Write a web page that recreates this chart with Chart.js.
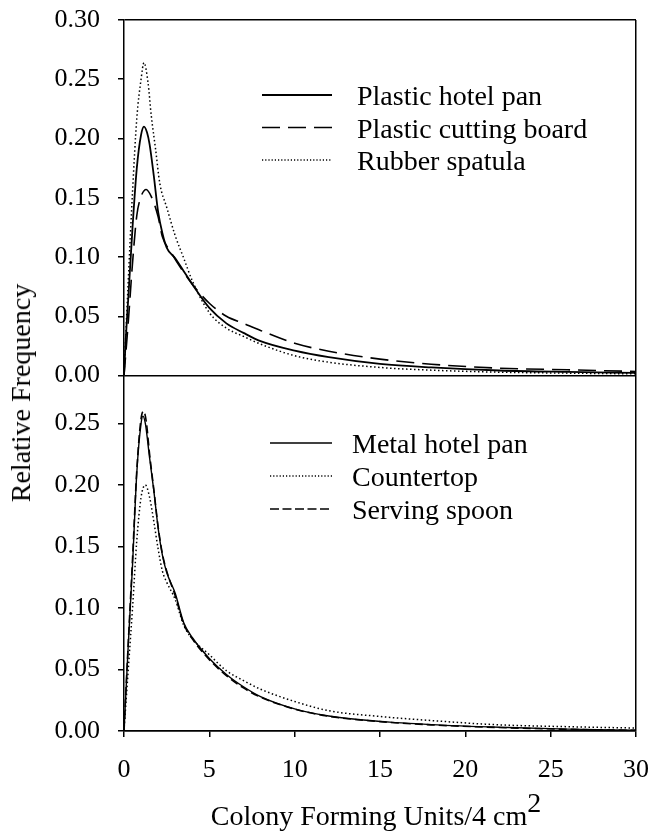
<!DOCTYPE html>
<html>
<head>
<meta charset="utf-8">
<title>Relative Frequency of CFU</title>
<script src="https://cdn.jsdelivr.net/npm/chart.js@4.4.1/dist/chart.umd.min.js"></script>
<style>
    body { margin: 0; background: #fff; }
    #wrap { position: relative; width: 651px; height: 833px; font-family: "Liberation Serif", "Times New Roman", serif; color: #000; }
    #chart { position: absolute; left: 0; top: 0; }
    #yTitle {
        position: absolute; left: 21px; top: 393px;
        transform: translate(-50%, -50%) rotate(-90deg);
        font-size: 28px; line-height: 1; white-space: nowrap;
    }
    #xTitle {
        position: absolute; left: 376px; top: 802px;
        transform: translateX(-50%);
        font-size: 28px; line-height: 1; white-space: nowrap;
    }
    #xTitle sup { font-size: 28px; line-height: 0; vertical-align: 13px; }
</style>
</head>
<body>
<div id="wrap">
    <canvas id="chart" width="651" height="833"></canvas>
    <div id="yTitle">Relative Frequency</div>
    <div id="xTitle">Colony Forming Units/4 cm<sup>2</sup></div>
</div>
<script>
// Tick labels
const X_TICKS = [0, 5, 10, 15, 20, 25, 30];
const TOP_TICKS = [0, 0.05, 0.10, 0.15, 0.20, 0.25, 0.30];
const BOTTOM_TICKS = [0, 0.05, 0.10, 0.15, 0.20, 0.25];

// Upper panel series (x in CFU/4 cm2, y relative frequency)
const hotelPanX = [0, 0.1, 0.25, 0.5, 0.75, 1.0, 1.17, 1.35, 1.5, 1.75, 2.0, 2.25, 2.5, 3.0, 3.5, 4, 5, 6, 7, 8, 10, 12, 15, 18, 22, 26, 30];
const hotelPanY = [0, 0.03, 0.065, 0.125, 0.175, 0.203, 0.210, 0.205, 0.195, 0.168, 0.138, 0.12, 0.108, 0.099, 0.088, 0.077, 0.057, 0.044, 0.036, 0.029, 0.021, 0.0155, 0.0098, 0.0068, 0.0042, 0.003, 0.0022];

const cuttingBoardX = [0, 0.25, 0.5, 0.75, 1.0, 1.3, 1.6, 2.0, 2.25, 2.75, 3.5, 4, 5, 6, 7, 8, 10, 12, 15, 18, 22, 26, 30];
const cuttingBoardY = [0, 0.045, 0.095, 0.135, 0.151, 0.157, 0.151, 0.134, 0.117, 0.104, 0.087, 0.077, 0.061, 0.050, 0.044, 0.038, 0.0272, 0.0205, 0.0138, 0.0095, 0.0062, 0.0048, 0.0034];

const spatulaX = [0, 0.25, 0.5, 0.75, 1.0, 1.17, 1.4, 1.6, 1.85, 2.1, 2.5, 3.0, 3.5, 4, 5, 6, 7, 8, 10, 12, 15, 18, 22, 26, 30];
const spatulaY = [0, 0.08, 0.155, 0.217, 0.25, 0.264, 0.248, 0.219, 0.191, 0.162, 0.142, 0.118, 0.099, 0.080, 0.053, 0.040, 0.033, 0.0265, 0.0167, 0.0112, 0.0068, 0.0045, 0.0028, 0.002, 0.0014];

// Lower panel series
const metalPanX = [0, 0.25, 0.5, 0.75, 1.0, 1.11, 1.25, 1.5, 1.75, 2.0, 2.25, 2.5, 3.0, 3.5, 4, 5, 6, 7, 8, 10, 12, 15, 18, 22, 26, 30];
const metalPanY = [0, 0.07, 0.135, 0.21, 0.25, 0.256, 0.25, 0.222, 0.195, 0.165, 0.143, 0.129, 0.112, 0.088, 0.076, 0.059, 0.046, 0.036, 0.028, 0.018, 0.0122, 0.0078, 0.0052, 0.003, 0.0015, 0.0006];

const countertopX = [0, 0.25, 0.5, 0.75, 1.0, 1.25, 1.5, 1.75, 2.0, 2.25, 2.5, 3.0, 3.5, 4, 5, 6, 7, 8, 10, 12, 15, 18, 22, 26, 30];
const countertopY = [0, 0.05, 0.1, 0.155, 0.19, 0.200, 0.19, 0.17, 0.148, 0.13, 0.121, 0.107, 0.086, 0.075, 0.062, 0.049, 0.041, 0.034, 0.024, 0.0165, 0.0118, 0.0085, 0.005, 0.0035, 0.0024];

const spoonX = [0, 0.25, 0.5, 0.75, 1.0, 1.15, 1.3, 1.5, 1.75, 2.0, 2.25, 2.5, 3.0, 3.5, 4, 5, 6, 7, 8, 10, 12, 15, 18, 22, 26, 30];
const spoonY = [0, 0.072, 0.14, 0.212, 0.254, 0.260, 0.252, 0.225, 0.196, 0.166, 0.144, 0.13, 0.11, 0.087, 0.075, 0.058, 0.045, 0.035, 0.0275, 0.0178, 0.012, 0.0076, 0.005, 0.0028, 0.0014, 0.0005];

const FONT = '"Liberation Serif", "Times New Roman", serif';
const DOTS = [1.5, 2.5];

function points(xs, ys) {
    return xs.map((x, i) => ({ x: x, y: ys[i] }));
}

function line(label, xs, ys, axis, width, dash) {
    return {
        label: label,
        data: points(xs, ys),
        yAxisID: axis,
        borderColor: '#000',
        borderWidth: width,
        borderDash: dash,
        pointRadius: 0,
        fill: false,
        cubicInterpolationMode: 'monotone'
    };
}

// Legend drawn inside each panel
const panelLegend = {
    id: 'panelLegend',
    afterDatasetsDraw(chart, args, opts) {
        const ctx = chart.ctx;
        opts.panels.forEach(p => {
            const items = chart.data.datasets.filter(d => d.yAxisID === p.axis);
            items.forEach((d, i) => {
                const y = p.y0 + i * p.dy;
                ctx.save();
                ctx.strokeStyle = '#000';
                ctx.lineWidth = d.borderWidth;
                ctx.setLineDash(p.dash[i]);
                ctx.beginPath();
                ctx.moveTo(p.x0, y);
                ctx.lineTo(p.x1, y);
                ctx.stroke();
                ctx.setLineDash([]);
                ctx.fillStyle = '#000';
                ctx.font = '28px ' + FONT;
                ctx.textBaseline = 'alphabetic';
                ctx.fillText(d.label, p.tx, y + 10);
                ctx.restore();
            });
        });
    }
};

function yAxis(ticks, max, weight) {
    return {
        type: 'linear',
        position: 'left',
        stack: 'panels',
        stackWeight: weight,
        min: 0,
        max: max,
        afterBuildTicks: s => { s.ticks = ticks.map(v => ({ value: v })); },
        afterFit: s => {
            s.width = 124;
            // label padding would otherwise push the plot area down
            s.paddingTop = 0;
            s.paddingBottom = 0;
        },
        border: { color: '#000', width: 1.5 },
        grid: {
            color: c => (c.tick && (c.tick.value === 0 || c.tick.value >= 0.299)) ? '#000' : 'rgba(0,0,0,0)',
            lineWidth: 1.5,
            tickColor: '#000',
            tickLength: 6
        },
        ticks: {
            color: '#000',
            font: { family: FONT, size: 26 },
            padding: 18,
            autoSkip: false,
            callback: v => v.toFixed(2)
        }
    };
}

new Chart(document.getElementById('chart').getContext('2d'), {
    type: 'line',
    data: {
        datasets: [
            line('Plastic hotel pan', hotelPanX, hotelPanY, 'yTop', 1.8, []),
            line('Plastic cutting board', cuttingBoardX, cuttingBoardY, 'yTop', 1.6, [18, 8]),
            line('Rubber spatula', spatulaX, spatulaY, 'yTop', 1.5, DOTS),
            line('Metal hotel pan', metalPanX, metalPanY, 'yBottom', 1.4, []),
            line('Countertop', countertopX, countertopY, 'yBottom', 1.5, DOTS),
            line('Serving spoon', spoonX, spoonY, 'yBottom', 1.6, [8, 4])
        ]
    },
    options: {
        responsive: false,
        animation: false,
        layout: { padding: { top: 20, right: 15, left: 0, bottom: 0 } },
        plugins: {
            legend: { display: false },
            tooltip: { enabled: false },
            panelLegend: {
                panels: [
                    { axis: 'yTop', x0: 262, x1: 332, tx: 357, y0: 95, dy: 32.5, dash: [[], [18, 8], [1.2, 2]] },
                    { axis: 'yBottom', x0: 270, x1: 332, tx: 352, y0: 443, dy: 33, dash: [[], [1.2, 2], [9, 3.5]] }
                ]
            }
        },
        scales: {
            x: {
                type: 'linear',
                min: 0,
                max: 30,
                afterBuildTicks: s => { s.ticks = X_TICKS.map(v => ({ value: v })); },
                afterFit: s => {
                    s.height = 102;
                    s.paddingLeft = 0;
                    s.paddingRight = 0;
                },
                border: { color: '#000', width: 1.5 },
                grid: {
                    color: c => (c.tick && c.tick.value === 30) ? '#000' : 'rgba(0,0,0,0)',
                    lineWidth: 1.5,
                    tickColor: '#000',
                    tickLength: 6
                },
                ticks: {
                    color: '#000',
                    font: { family: FONT, size: 26 },
                    padding: 18,
                    maxRotation: 0,
                    autoSkip: false
                }
            },
            // stacked panels: first listed is placed lowest
            yBottom: yAxis(BOTTOM_TICKS, 0.289, 1),
            yTop: yAxis(TOP_TICKS, 0.30, 1)
        }
    },
    plugins: [panelLegend]
});
</script>
</body>
</html>
